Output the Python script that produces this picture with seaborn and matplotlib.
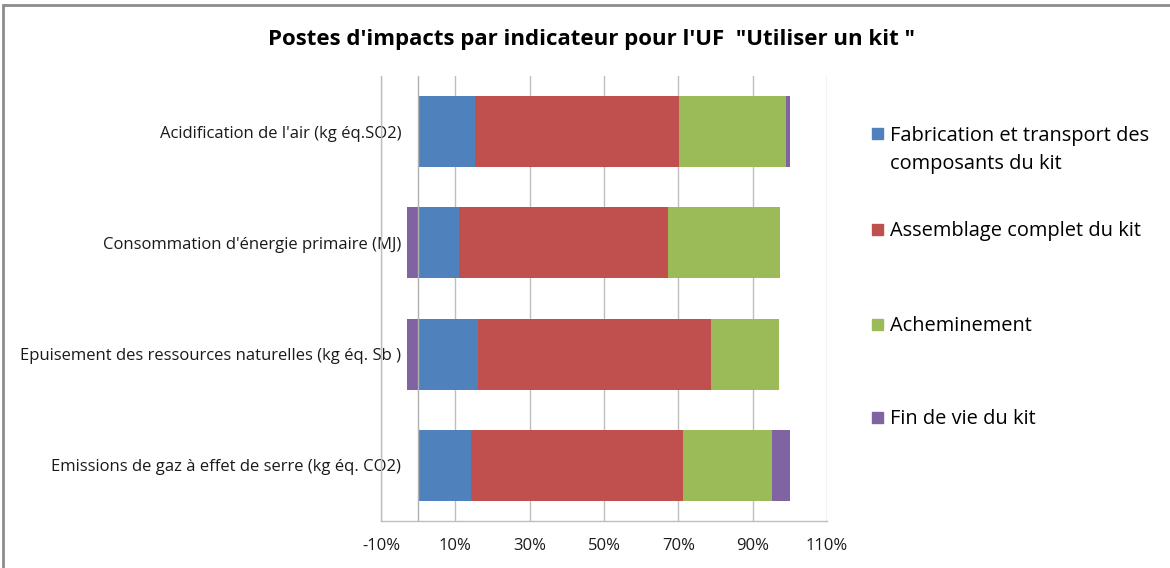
import matplotlib
matplotlib.use("Agg")
import matplotlib.pyplot as plt
import seaborn as sns
import pandas as pd
from matplotlib.patches import Rectangle

# Data (percent of total impact)
indicators = [
    "Acidification de l'air (kg éq.SO2)",
    "Consommation d'énergie primaire (MJ)",
    "Epuisement des ressources naturelles (kg éq. Sb )",
    "Emissions de gaz à effet de serre (kg éq. CO2)",
]
series = [
    "Fabrication et transport des\ncomposants du kit",
    "Assemblage complet du kit",
    "Acheminement",
    "Fin de vie du kit",
]
fabrication = [15.2, 11.1, 16.0, 14.3]
assemblage = [55.1, 56.2, 62.7, 57.0]
acheminement = [28.7, 30.0, 18.3, 24.0]
fin_de_vie = [1.0, -2.9, -3.1, 4.7]
colors = ["#4F81BD", "#C0504D", "#9BBB59", "#8064A2"]
x_ticks = [-10, 10, 30, 50, 70, 90, 110]
x_labels = ["-10%", "10%", "30%", "50%", "70%", "90%", "110%"]
title = "Postes d'impacts par indicateur pour l'UF  \"Utiliser un kit \""

W, H = 1170, 568


def main():
    sns.set_theme(style="white")
    plt.rcParams['font.family'] = ['Open Sans', 'DejaVu Sans']

    df = pd.DataFrame({s: v for s, v in zip(series, [fabrication, assemblage, acheminement, fin_de_vie])},
                      index=indicators)
    pos = df.clip(lower=0).cumsum(axis=1)
    neg = df.clip(upper=0).cumsum(axis=1)

    fig = plt.figure(figsize=(W / 100, H / 100), dpi=100)
    ax = fig.add_axes([381 / W, 1 - 521 / H, (827 - 381) / W, (521 - 76) / H])

    # stacked bars: draw cumulative totals from the outermost segment inwards
    for cum in (pos, neg):
        for s, c in reversed(list(zip(series, colors))):
            frame = pd.DataFrame({'indicator': indicators, 'value': cum[s].values})
            sns.barplot(data=frame, x='value', y='indicator', color=c, saturation=1,
                        width=0.64, linewidth=0, errorbar=None, orient='h', ax=ax)

    ax.set_xlim(-10, 110)
    ax.set_ylim(3.5, -0.5)
    ax.set_xticks(x_ticks)
    ax.set_xticklabels(x_labels, fontsize=12, color='#1a1a1a')
    ax.set_xlabel("")
    ax.set_ylabel("")
    ax.tick_params(axis='x', length=0, pad=12)
    ax.tick_params(axis='y', length=0, pad=-14.4)
    for lbl in ax.get_yticklabels():
        lbl.set_fontsize(12)
        lbl.set_color('#1a1a1a')

    ax.set_axisbelow(True)
    ax.grid(axis='x', color='#BEBEBE', linewidth=1)
    ax.grid(axis='y', visible=False)
    # value axis crossing at 0, drawn over the bars as in the original
    ax.axvline(0, color='#B0B0B0', linewidth=1, zorder=3)
    for side in ('top', 'right'):
        ax.spines[side].set_visible(False)
    for side in ('left', 'bottom'):
        ax.spines[side].set_color('#BEBEBE')
        ax.spines[side].set_linewidth(1)

    fig.text(591 / W, 1 - 40 / H, title, ha='center', va='center',
             fontsize=16, fontweight='bold', color='black')

    # legend drawn by hand so the marker sits on the first line of each label
    marker_y = [133.5, 229.5, 324.5, 417.5]
    line_step = 29
    for s, c, y in zip(series, colors, marker_y):
        fig.patches.append(Rectangle((872 / W, 1 - (y + 5.5) / H), 11 / W, 11 / H,
                                     transform=fig.transFigure, color=c))
        n_extra = s.count('\n')
        fig.text(890 / W, 1 - (y + 6.5 + n_extra * line_step) / H, s, ha='left', va='baseline',
                 fontsize=14.4, color='black', linespacing=1.5)

    # chart area border
    fig.patches.append(Rectangle((3 / W, -0.05), 1.2, 1.05 - 5 / H, transform=fig.transFigure,
                                 fill=False, edgecolor='#8C8C8C', linewidth=2))

    fig.savefig('out.png', dpi=100)
    plt.close(fig)


if __name__ == "__main__":
    main()
